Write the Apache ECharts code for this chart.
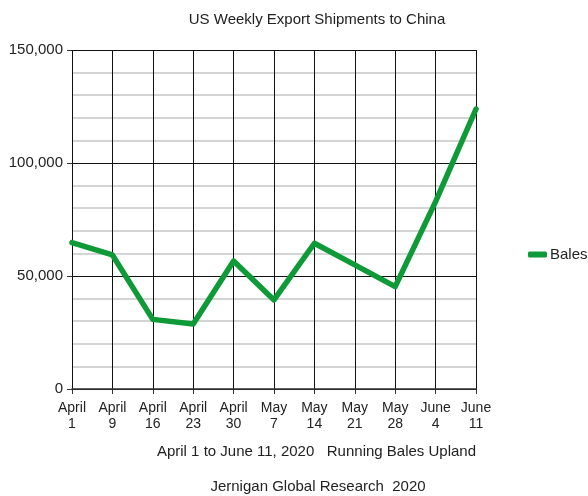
<!DOCTYPE html>
<html>
<head>
<meta charset="utf-8">
<script src="https://cdn.jsdelivr.net/npm/echarts@6/dist/echarts.min.js"></script>
<style>
  html, body { margin: 0; padding: 0; background: #fff; }
  #chart { width: 588px; height: 496px; }
</style>
</head>
<body>
<div id="chart"></div>
<script>
// Weekly export shipments, running bales (upland cotton)
const weeks = ['April\n1', 'April\n9', 'April\n16', 'April\n23', 'April\n30', 'May\n7', 'May\n14', 'May\n21', 'May\n28', 'June\n4', 'June\n11'];
const bales = [64800, 59300, 30800, 28800, 56600, 39400, 64500, 54900, 45300, 82900, 123900];
const yTicks = { min: 0, max: 150000, interval: 50000 };

const FONT = '"Liberation Sans", Arial, sans-serif';
const GREEN = '#0f9a38';

const chart = echarts.init(document.getElementById('chart'), null, { renderer: 'canvas' });
chart.setOption({
  animation: false,
  backgroundColor: '#fff',
  textStyle: { fontFamily: FONT },
  title: {
    text: 'US Weekly Export Shipments to China',
    left: 312,
    top: 7,
    textAlign: 'center',
    textStyle: { fontFamily: FONT, fontSize: 15, fontWeight: 'normal', color: '#222' }
  },
  graphic: [{
    type: 'text',
    x: 318,
    y: 487,
    style: {
      text: 'Jernigan Global Research  2020',
      font: '15px ' + FONT,
      fill: '#222',
      align: 'center',
      verticalAlign: 'middle'
    }
  }],
  legend: {
    left: 523,
    top: 242,
    icon: 'roundRect',
    itemWidth: 19,
    itemHeight: 6,
    itemGap: 4,
    textStyle: { fontFamily: FONT, fontSize: 15, color: '#222', padding: [0, 0, 0, -2] },
    data: ['Bales']
  },
  grid: { left: 72, right: 112, top: 50, bottom: 107 },
  xAxis: {
    type: 'category',
    data: weeks,
    boundaryGap: false,
    name: 'April 1 to June 11, 2020   Running Bales Upland',
    nameLocation: 'middle',
    nameGap: 55,
    nameTextStyle: { fontFamily: FONT, fontSize: 15, color: '#222', padding: [0, 0, 0, 85] },
    axisLine: { lineStyle: { color: '#333', width: 1.5 } },
    axisTick: { show: true, alignWithLabel: true, length: 5, lineStyle: { color: '#333' } },
    axisLabel: { fontFamily: FONT, fontSize: 14, color: '#222', lineHeight: 16, margin: 11, interval: 0 },
    splitLine: { show: true, lineStyle: { color: '#111', width: 1 } }
  },
  yAxis: {
    type: 'value',
    min: yTicks.min,
    max: yTicks.max,
    interval: yTicks.interval,
    axisLine: { show: false },
    axisTick: { show: true, length: 5, lineStyle: { color: '#333' } },
    axisLabel: {
      fontFamily: FONT, fontSize: 15, color: '#222', margin: 9,
      formatter: v => v.toLocaleString('en-US')
    },
    splitLine: { show: true, lineStyle: { color: '#111', width: 1 } },
    minorTick: { show: false, splitNumber: 5 },
    minorSplitLine: { show: true, lineStyle: { color: '#c8c8c8', width: 1.5 } }
  },
  series: [{
    name: 'Bales',
    type: 'line',
    data: bales,
    showSymbol: false,
    symbol: 'none',
    lineStyle: { color: GREEN, width: 5.5, cap: 'round', join: 'round' },
    itemStyle: { color: GREEN }
  }]
});
</script>
</body>
</html>
